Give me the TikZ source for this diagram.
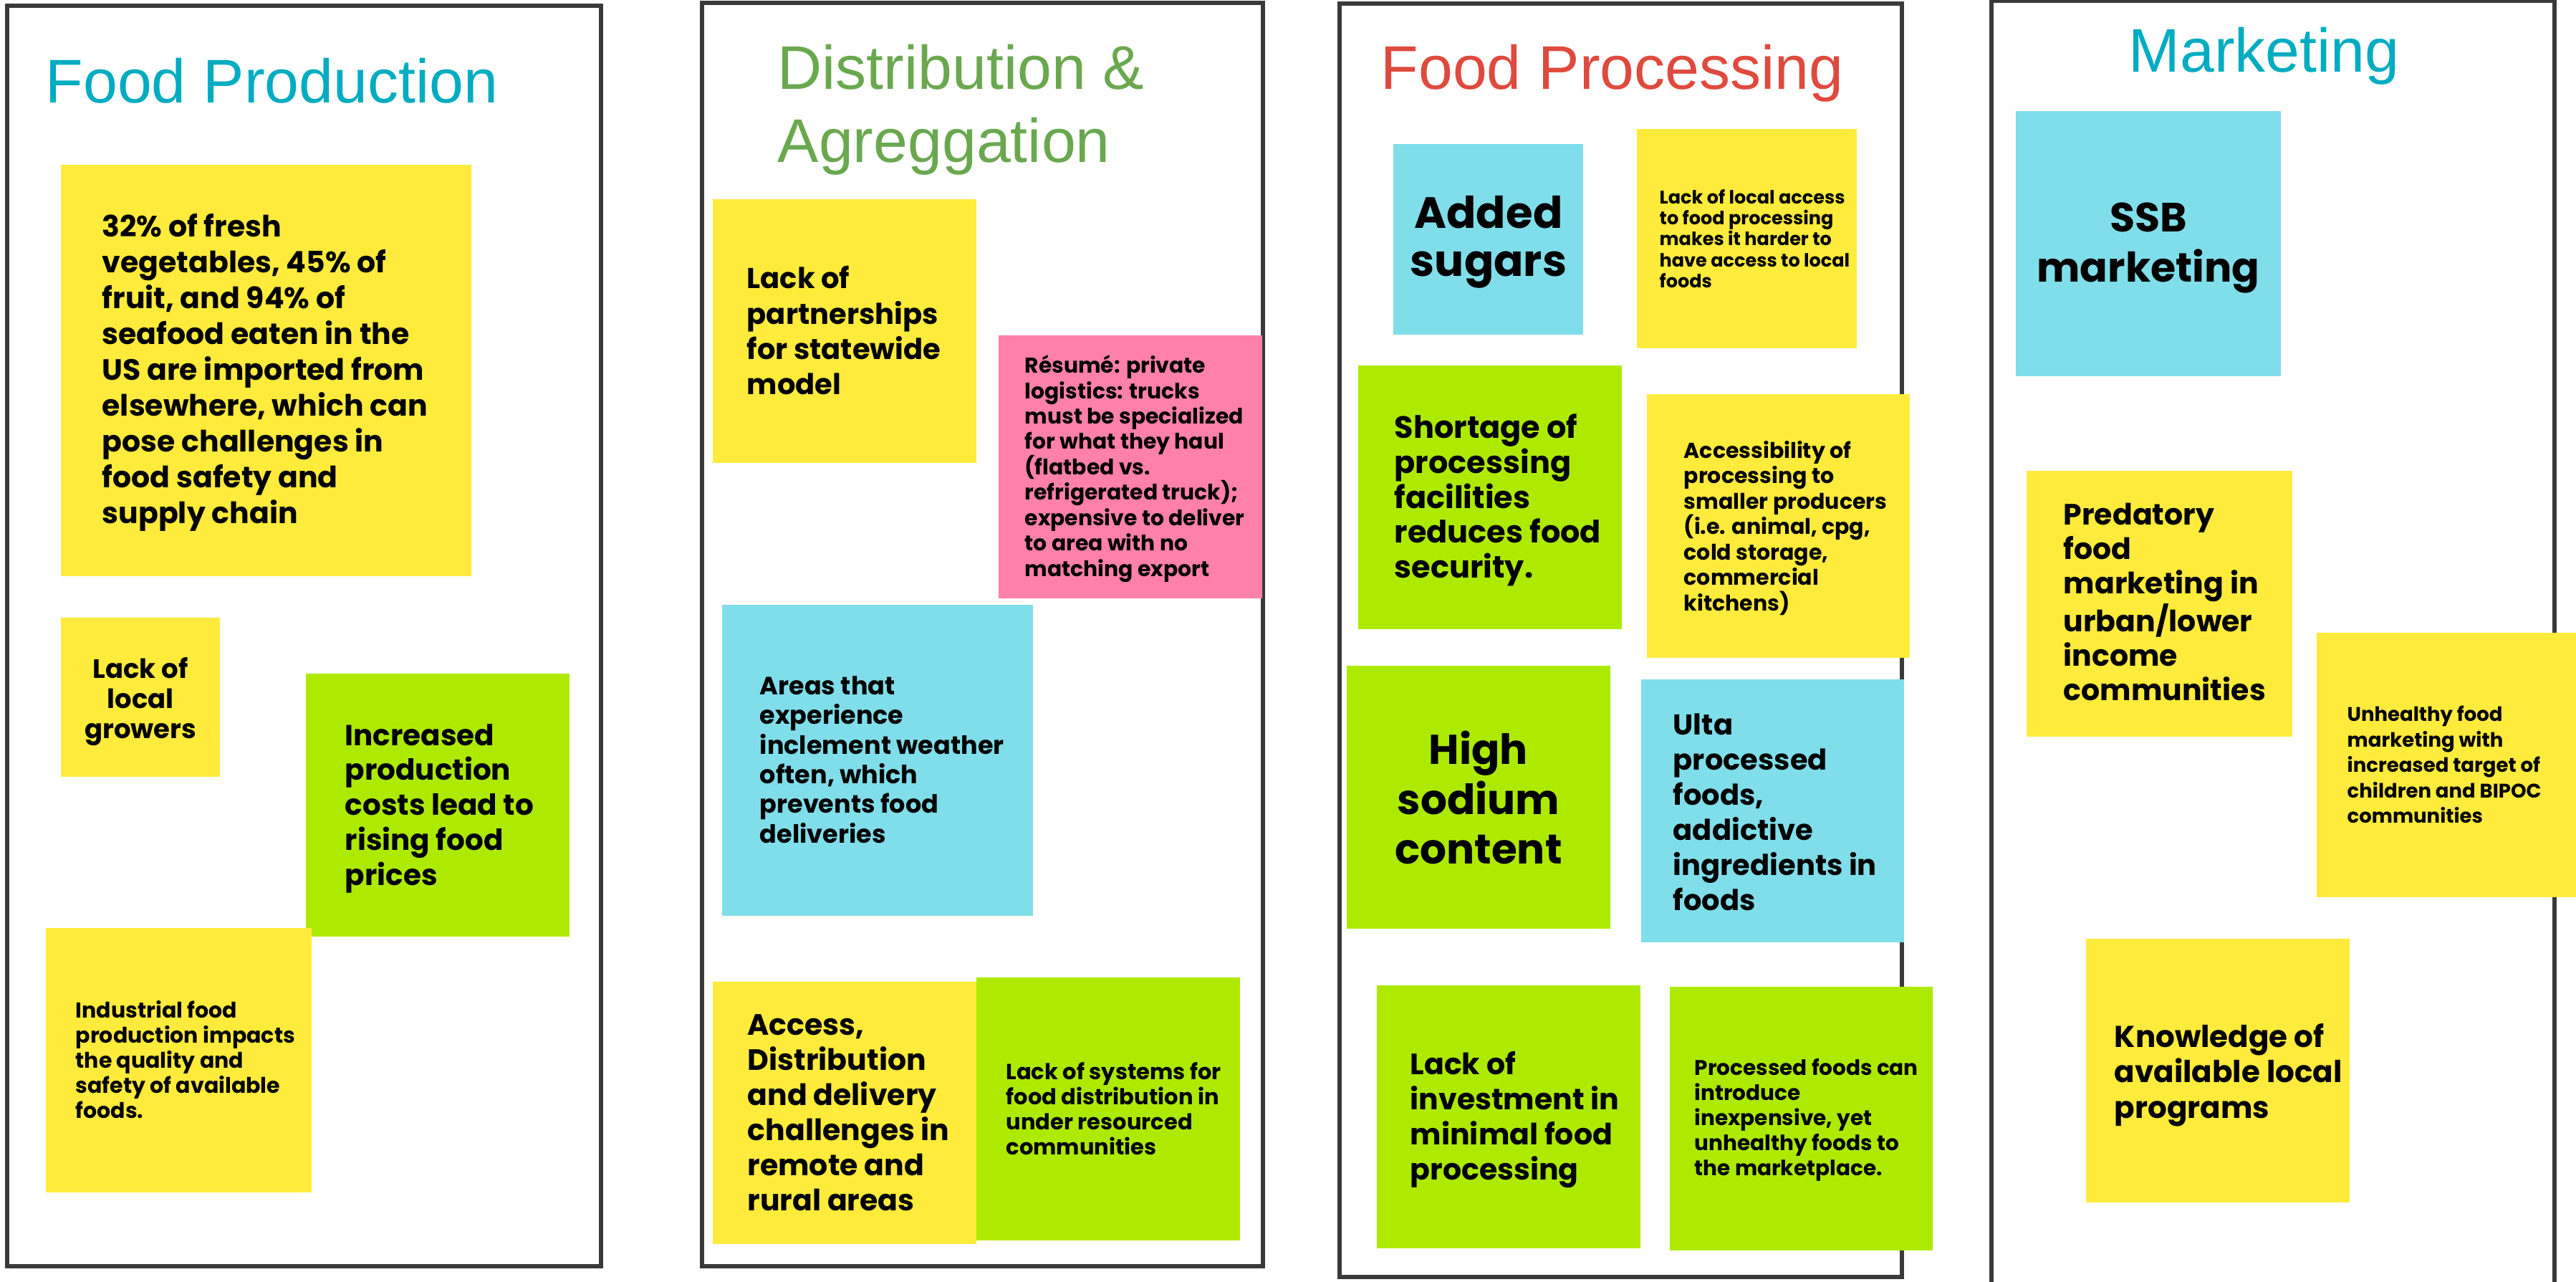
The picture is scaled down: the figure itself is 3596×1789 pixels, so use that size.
\documentclass[tikz,border=0pt]{standalone}
\usepackage{fontspec}
\setmainfont{Liberation Sans}
\newfontfamily\notef{Poppins}
\newfontfamily\titlef{Liberation Sans}
\definecolor{yel}{HTML}{FFEB3B}
\definecolor{grn}{HTML}{AEEA00}
\definecolor{blu}{HTML}{80DEEA}
\definecolor{pnk}{HTML}{FF80AB}
\definecolor{panelc}{HTML}{3A3A3A}
\definecolor{tealt}{HTML}{00ACC1}
\definecolor{greent}{HTML}{6AA84F}
\definecolor{redt}{HTML}{DF4A3E}
\newcommand\fsz[2]{\fontsize{\fpeval{#1*0.28453}pt}{\fpeval{#2*0.28453}pt}\selectfont}
\newcommand\boxnode[6][]{\node[inner sep=0pt, outer sep=0pt, minimum width=\fpeval{(#5-#3)/100}cm, minimum height=\fpeval{(#6-#4)/100}cm, #1] (#2) at ({(#3+#5)/2},{(#4+#6)/2}) {};}
\tikzset{
  panel/.style={draw=panelc, line width=0.06cm, fill=white},
  ttl/.style={inner sep=0pt, anchor=base west, align=left, font={\titlef\fsz{86}{102}}},
  ntl/.style 2 args={inner sep=0pt, anchor=west, align=left, font={\notef\bfseries\fsz{#1}{#2}}},
  ntc/.style 2 args={inner sep=0pt, anchor=center, align=center, font={\notef\bfseries\fsz{#1}{#2}}}
}
\begin{document}
\begin{tikzpicture}[x=0.01cm,y=-0.01cm]
\fill[white] (0,0) rectangle (3596,1789);
\clip (0,0) rectangle (3596,1789);
% panels
\boxnode[panel]{p1}{10}{9}{839}{1766}
\boxnode[panel]{p2}{980}{5}{1763}{1766}
\boxnode[panel]{p3}{1870}{6}{2655}{1781}
\boxnode[panel]{p4}{2780}{2}{3566}{1850}
% titles
\node[ttl, text=tealt] (t1) at (63,143.5) {Food Production};
\node[ttl, text=greent] (t2) at (1085,227) {Distribution \&\\Agreggation};
\node[ttl, text=redt] (t3) at (1927,125) {Food Processing};
\node[ttl, text=tealt] (t4) at (2971,100.5) {Marketing};
% panel 1
\boxnode[fill=yel]{a1}{85}{230}{658}{804}
\node[ntl={41}{50}] (a1t) at (142,520) {32\% of fresh\\vegetables, 45\% of\\fruit, and 94\% of\\seafood eaten in the\\US are imported from\\elsewhere, which can\\pose challenges in\\food safety and\\supply chain};
\boxnode[fill=yel]{a2}{85}{862}{307}{1084}
\node[ntc={37}{42}] (a2t) at (196,979) {Lack of\\local\\growers};
\boxnode[fill=grn]{a3}{427}{940}{795}{1307}
\node[ntl={40.5}{48.7}] (a3t) at (481,1128) {Increased\\production\\costs lead to\\rising food\\prices};
\boxnode[fill=yel]{a4}{64}{1295}{435}{1664}
\node[ntl={30}{35}] (a4t) at (105,1479) {Industrial food\\production impacts\\the quality and\\safety of available\\foods.};
% panel 2
\boxnode[fill=yel]{b1}{995}{278}{1363}{646}
\node[ntl={40}{49}] (b1t) at (1042,461) {Lack of\\partnerships\\for statewide\\model};
\boxnode[fill=pnk]{b2}{1394}{468}{1762}{835}
\node[ntl={29.8}{35.4}] (b2t) at (1430,654) {Résumé: private\\logistics: trucks\\must be specialized\\for what they haul\\(flatbed vs.\\refrigerated truck);\\expensive to deliver\\to area with no\\matching export};
\boxnode[fill=blu]{b3}{1008}{844}{1442}{1278}
\node[ntl={35}{41.3}] (b3t) at (1060,1060) {Areas that\\experience\\inclement weather\\often, which\\prevents food\\deliveries};
\boxnode[fill=yel]{b4}{995}{1370}{1363}{1736}
\node[ntl={41}{49}] (b4t) at (1043,1553) {Access,\\Distribution\\and delivery\\challenges in\\remote and\\rural areas};
\boxnode[fill=grn]{b5}{1363}{1364}{1731}{1731}
\node[ntl={30.5}{35}] (b5t) at (1404,1547) {Lack of systems for\\food distribution in\\under resourced\\communities};
% panel 3
\boxnode[fill=blu]{c1}{1945}{201}{2210}{467}
\node[ntc={61}{67.5}] (c1t) at (2078,338) {Added\\sugars};
\boxnode[fill=yel]{c2}{2285}{180}{2592}{486}
\node[ntl={25.5}{29.4}] (c2t) at (2316,333) {Lack of local access\\to food processing\\makes it harder to\\have access to local\\foods};
\boxnode[fill=grn]{c3}{1896}{510}{2264}{878}
\node[ntl={43}{48.8}] (c3t) at (1946,698) {Shortage of\\processing\\facilities\\reduces food\\security.};
\boxnode[fill=yel]{c4}{2299}{550}{2666}{918}
\node[ntl={30}{35.5}] (c4t) at (2350,737) {Accessibility of\\processing to\\smaller producers\\(i.e. animal, cpg,\\cold storage,\\commercial\\kitchens)};
\boxnode[fill=grn]{c5}{1880}{929}{2248}{1296}
\node[ntc={58}{69}] (c5t) at (2064,1113) {High\\sodium\\content};
\boxnode[fill=blu]{c6}{2291}{948}{2658}{1315}
\node[ntl={40}{49}] (c6t) at (2335,1133) {Ulta\\processed\\foods,\\addictive\\ingredients in\\foods};
\boxnode[fill=grn]{c7}{1922}{1375}{2290}{1742}
\node[ntl={41}{49}] (c7t) at (1968,1563) {Lack of\\investment in\\minimal food\\processing};
\boxnode[fill=grn]{c8}{2331}{1377}{2698}{1745}
\node[ntl={29.5}{35}] (c8t) at (2365,1563) {Processed foods can\\introduce\\inexpensive, yet\\unhealthy foods to\\the marketplace.};
% panel 4
\boxnode[fill=blu]{d1}{2814}{155}{3184}{525}
\node[ntc={57}{69.5}] (d1t) at (2999,346) {SSB\\marketing};
\boxnode[fill=yel]{d2}{2829}{657}{3200}{1028}
\node[ntl={41}{47.8}] (d2t) at (2880,840) {Predatory\\food\\marketing in\\urban/lower\\income\\communities};
\boxnode[fill=yel]{d3}{3234}{883}{3603}{1252}
\node[ntl={27.5}{35.4}] (d3t) at (3276,1067) {Unhealthy food\\marketing with\\increased target of\\children and BIPOC\\communities};
\boxnode[fill=yel]{d4}{2912}{1310}{3280}{1678}
\node[ntl={42}{49.4}] (d4t) at (2951,1500) {Knowledge of\\available local\\programs};
\end{tikzpicture}
\end{document}
